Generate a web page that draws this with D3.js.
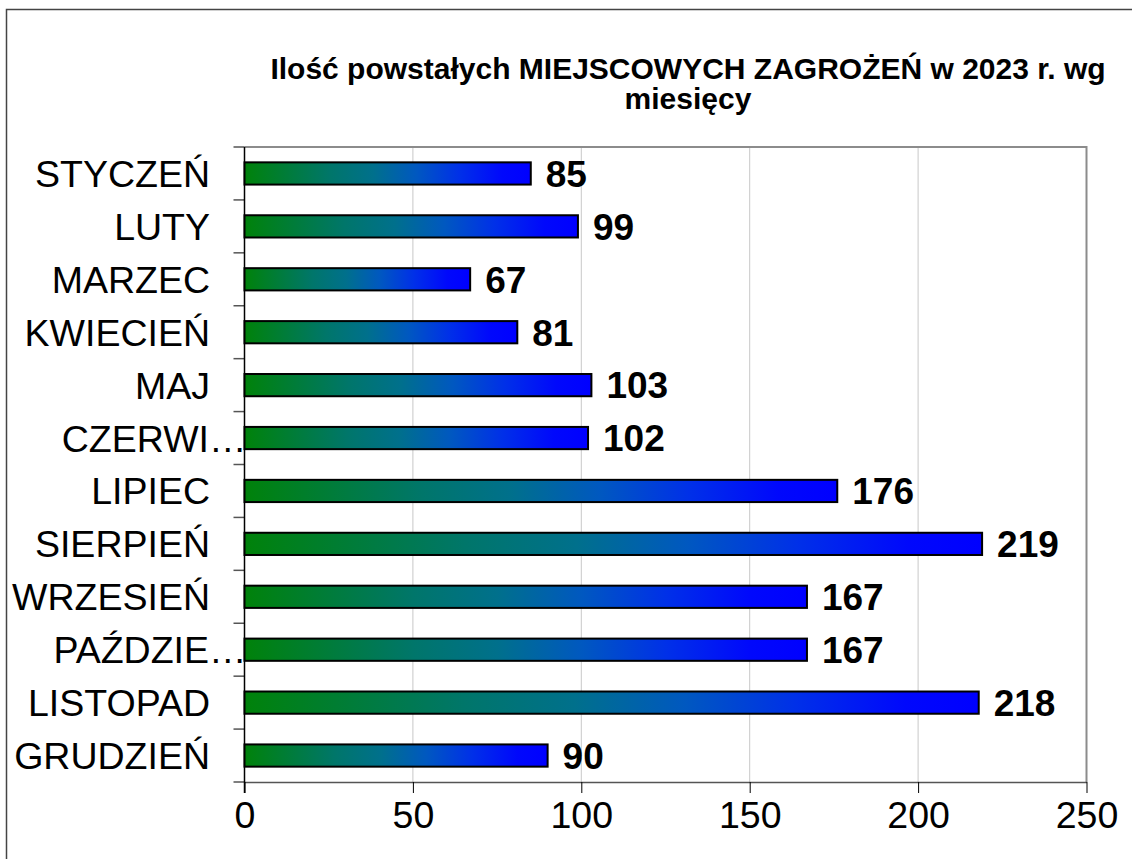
<!DOCTYPE html>
<html>
<head>
<meta charset="utf-8">
<script src="https://cdn.jsdelivr.net/npm/d3@7"></script>
<style>
  body { margin: 0; background: #fff; }
  svg { display: block; font-family: "Liberation Sans", Arial, sans-serif; }
</style>
</head>
<body>
<svg id="chart" width="1132" height="859"></svg>
<script>
// dane
const months = ["STYCZEŃ", "LUTY", "MARZEC", "KWIECIEŃ", "MAJ", "CZERWIEC", "LIPIEC", "SIERPIEŃ", "WRZESIEŃ", "PAŹDZIERNIK", "LISTOPAD", "GRUDZIEŃ"];
const shownLabels = ["STYCZEŃ", "LUTY", "MARZEC", "KWIECIEŃ", "MAJ", "CZERWI…", "LIPIEC", "SIERPIEŃ", "WRZESIEŃ", "PAŹDZIE…", "LISTOPAD", "GRUDZIEŃ"];
const values = [85, 99, 67, 81, 103, 102, 176, 219, 167, 167, 218, 90];
const xTicks = [0, 50, 100, 150, 200, 250];
const titleLines = ["Ilość powstałych MIEJSCOWYCH ZAGROŻEŃ w 2023 r. wg", "miesięcy"];

const svg = d3.select("#chart");

// ramka wykresu
svg.append("rect")
    .attr("x", 6.5).attr("y", 9.5)
    .attr("width", 1140).attr("height", 870)
    .attr("fill", "none")
    .attr("stroke", "#444")
    .attr("stroke-width", 1.5);

const plot = { left: 244.5, right: 1086.5, top: 147, bottom: 782 };

const x = d3.scaleLinear().domain([0, 250]).range([plot.left, plot.right]);
const y = d3.scaleBand().domain(months).range([plot.top, plot.bottom])
    .paddingInner(0.58).paddingOuter(0.29);

// gradient słupków (zielony -> niebieski)
const gradStops = [
    [0, "#00820a"], [0.3, "#00766a"], [0.45, "#00708c"],
    [0.6, "#0058c0"], [0.75, "#0030e8"], [0.9, "#0008fc"], [1, "#0000ff"]
];
const grad = svg.append("defs").append("linearGradient")
    .attr("id", "barGrad")
    .attr("x1", "0%").attr("x2", "100%").attr("y1", "0%").attr("y2", "0%");
grad.selectAll("stop")
    .data(gradStops)
    .join("stop")
    .attr("offset", d => d[0])
    .attr("stop-color", d => d[1]);

// tytuł
svg.append("g").selectAll("text")
    .data(titleLines)
    .join("text")
    .attr("x", 688)
    .attr("y", (d, i) => 79 + i * 30)
    .attr("text-anchor", "middle")
    .attr("font-weight", "bold")
    .attr("font-size", "30px")
    .attr("fill", "#000")
    .text(d => d);

// siatka
svg.append("g").selectAll("line")
    .data(xTicks.slice(1, -1))
    .join("line")
    .attr("x1", d => x(d)).attr("x2", d => x(d))
    .attr("y1", plot.top).attr("y2", plot.bottom)
    .attr("stroke", "#c8c8c8")
    .attr("stroke-width", 1);

// obramowanie obszaru wykresu
svg.append("path")
    .attr("d", `M${plot.left},${plot.top}H${plot.right}V${plot.bottom}`)
    .attr("fill", "none")
    .attr("stroke", "#8c8c8c")
    .attr("stroke-width", 2);

// oś X
const xAxis = svg.append("g")
    .attr("transform", `translate(0,${plot.bottom})`)
    .call(d3.axisBottom(x).tickValues(xTicks).tickSize(11).tickSizeOuter(0).tickPadding(8));
xAxis.select(".domain").attr("stroke", "#555").attr("stroke-width", 1.5);
xAxis.selectAll(".tick line").attr("stroke", "#000");
xAxis.selectAll(".tick text")
    .attr("font-family", "'Liberation Sans', Arial, sans-serif")
    .attr("font-size", "37.5px")
    .attr("fill", "#000");

// oś Y
const step = y.step();
const yTickPos = d3.range(months.length + 1).map(i => plot.top + i * step);
svg.append("g").selectAll("line")
    .data(yTickPos)
    .join("line")
    .attr("x1", plot.left - 11).attr("x2", plot.left)
    .attr("y1", d => d).attr("y2", d => d)
    .attr("stroke", "#555")
    .attr("stroke-width", 1.5);
svg.append("line")
    .attr("x1", plot.left).attr("x2", plot.left)
    .attr("y1", plot.top).attr("y2", plot.bottom + 11)
    .attr("stroke", "#000")
    .attr("stroke-width", 1.5);

svg.append("g").selectAll("text")
    .data(months)
    .join("text")
    .attr("x", (d, i) => shownLabels[i].endsWith("…") ? plot.left + 2 : 210)
    .attr("y", d => y(d) + y.bandwidth() / 2)
    .attr("dy", "0.36em")
    .attr("text-anchor", "end")
    .attr("font-size", "37.5px")
    .attr("fill", "#000")
    .text((d, i) => shownLabels[i]);

// słupki
svg.append("g").selectAll("rect")
    .data(months)
    .join("rect")
    .attr("x", x(0))
    .attr("y", d => y(d))
    .attr("width", (d, i) => x(values[i]) - x(0))
    .attr("height", y.bandwidth())
    .attr("fill", "url(#barGrad)")
    .attr("stroke", "#000")
    .attr("stroke-width", 2);

// etykiety wartości
svg.append("g").selectAll("text")
    .data(months)
    .join("text")
    .attr("x", (d, i) => x(values[i]) + 15)
    .attr("y", d => y(d) + y.bandwidth() / 2)
    .attr("dy", "0.36em")
    .attr("font-size", "37px")
    .attr("font-weight", "bold")
    .attr("fill", "#000")
    .text((d, i) => values[i]);
</script>
</body>
</html>
